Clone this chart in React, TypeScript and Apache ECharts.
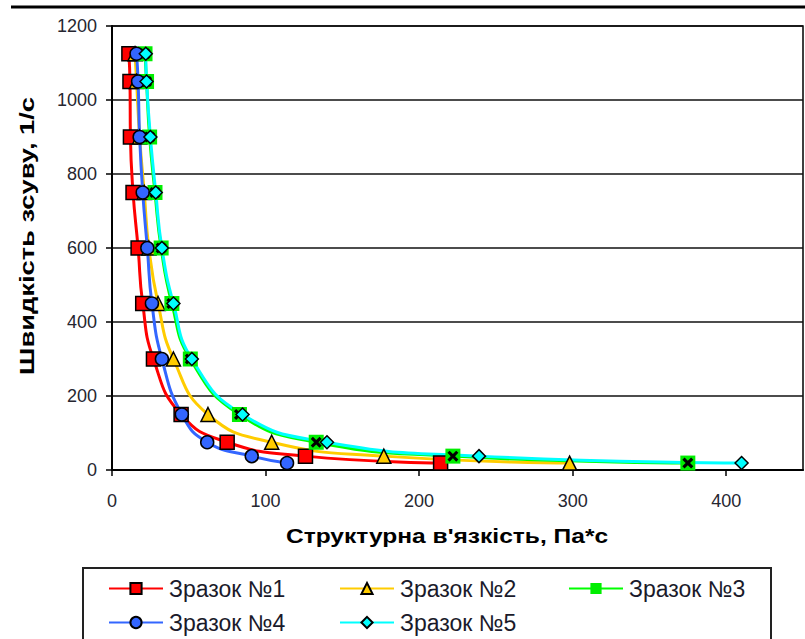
import React, { useEffect, useRef } from "react";
import * as echarts from "echarts";

const shearRate = [1125, 1050, 900, 750, 600, 450, 300, 150, 75, 37.5, 18.75];
const visc1 = [11, 11.7, 12, 13.7, 17, 20, 27, 45, 75, 126, 214];
const visc2 = [15, 16, 18, 21, 24, 30, 40, 62.5, 104, 177, 298];
const visc3 = [21.5, 22.5, 24.5, 28, 32, 39, 51, 83, 133, 222, 375];
const visc4 = [16, 17, 18, 20, 23, 26, 32.5, 45.5, 62, 91, 114];
const visc5 = [22, 22.5, 25, 28.5, 32.5, 40, 52, 85, 140, 239, 410];
const names = ["Зразок №1", "Зразок №2", "Зразок №3", "Зразок №4", "Зразок №5"];
const xTicks = [0, 100, 200, 300, 400];
const yTicks = [0, 200, 400, 600, 800, 1000, 1200];

const pairs = (xs: number[]) => xs.map((x, i) => [x, shearRate[i]]);

const FONT = "'Liberation Sans', Arial, sans-serif";
const X_PATH = "path://M2,0 L5,3 L8,0 L10,2 L7,5 L10,8 L8,10 L5,7 L2,10 L0,8 L3,5 L0,2 Z";

export default function App() {
  const ref = useRef<HTMLDivElement>(null);
  useEffect(() => {
    if (!ref.current) return;
    const chart = echarts.init(ref.current, undefined, { renderer: "svg" });
    const lineW = 3;
    const mk = (name: string, data: number[], color: string, symbol: string, size: number, fill: string, border = true) => ({
      name,
      type: "line",
      data: pairs(data),
      smooth: 0.5,
      symbol,
      symbolSize: size,
      lineStyle: { color, width: lineW },
      itemStyle: { color: fill, borderColor: border ? "#000" : fill, borderWidth: border ? 1.5 : 0 },
      emphasis: { disabled: true },
    });
    const legendItem = (name: string, left: number, top: number) => ({
      data: [name],
      left,
      top,
      padding: 0,
      itemWidth: 54,
      itemHeight: 14,
      itemGap: 0,
      textStyle: { fontFamily: FONT, fontSize: 23, color: "#1a1a2a", padding: [0, 0, 0, 1] },
    });
    chart.setOption({
      animation: false,
      backgroundColor: "#fff",
      grid: {
        left: 112,
        right: 2,
        top: 26,
        bottom: 169,
        show: true,
        borderColor: "#000",
        borderWidth: 1.5,
        containLabel: false,
      },
      xAxis: {
        type: "value",
        min: xTicks[0],
        max: 450,
        interval: xTicks[1] - xTicks[0],
        axisLine: { show: true, onZero: false, lineStyle: { color: "#000", width: 2 } },
        axisTick: { show: true, inside: false, length: 6, lineStyle: { color: "#000", width: 1.5 } },
        axisLabel: {
          margin: 22,
          fontFamily: FONT,
          fontSize: 18,
          color: "#262630",
          showMaxLabel: false,
          formatter: (v: number) => (xTicks.includes(v) ? String(v) : ""),
        },
        splitLine: { show: false },
      },
      yAxis: {
        type: "value",
        min: yTicks[0],
        max: yTicks[yTicks.length - 1],
        interval: yTicks[1] - yTicks[0],
        axisLine: { show: true, onZero: false, lineStyle: { color: "#000", width: 2 } },
        axisTick: { show: true, inside: false, length: 6, lineStyle: { color: "#000", width: 1.5 } },
        axisLabel: { margin: 15, fontFamily: FONT, fontSize: 18, color: "#262630", formatter: (v: number) => String(v) },
        splitLine: { show: true, lineStyle: { color: "#111", width: 1.5 } },
      },
      legend: [
        legendItem(names[0], 108, 577),
        legendItem(names[1], 339, 577),
        legendItem(names[2], 568, 577),
        legendItem(names[3], 108, 611),
        legendItem(names[4], 339, 611),
      ],
      graphic: [
        { type: "line", shape: { x1: 11, y1: 7, x2: 805, y2: 7 }, style: { stroke: "#000", lineWidth: 3 } },
        { type: "rect", shape: { x: 83, y: 568, width: 688, height: 90 }, style: { fill: "none", stroke: "#222", lineWidth: 2 }, z: -1 },
        {
          type: "text",
          x: 447,
          y: 536,
          scaleX: 1.17,
          style: { text: "Структурна в'язкість, Па*с", font: `bold 21px ${FONT}`, fill: "#000", align: "center", verticalAlign: "middle" },
        },
        {
          type: "text",
          x: 27,
          y: 236,
          rotation: Math.PI / 2,
          scaleX: 1.3,
          style: { text: "Швидкість зсуву, 1/с", font: `bold 21px ${FONT}`, fill: "#000", align: "center", verticalAlign: "middle" },
        },
      ],
      series: [
        mk(names[0], visc1, "#ff0000", "rect", 14, "#ff0000"),
        mk(names[1], visc2, "#ffcc00", "triangle", 14, "#ffcc00"),
        mk(names[2], visc3, "#00ff00", "rect", 15, "#00ee00", false),
        {
          name: names[2],
          type: "line",
          data: pairs(visc3),
          lineStyle: { width: 0, opacity: 0 },
          symbol: X_PATH,
          symbolSize: 11,
          itemStyle: { color: "#000" },
          emphasis: { disabled: true },
        },
        mk(names[3], visc4, "#3366ff", "circle", 13, "#3366ff"),
        mk(names[4], visc5, "#00ffff", "diamond", 13, "#00ffff"),
      ],
    });
    return () => chart.dispose();
  }, []);
  return <div ref={ref} style={{ position: "fixed", left: 0, top: 0, width: 805, height: 639 }} />;
}
